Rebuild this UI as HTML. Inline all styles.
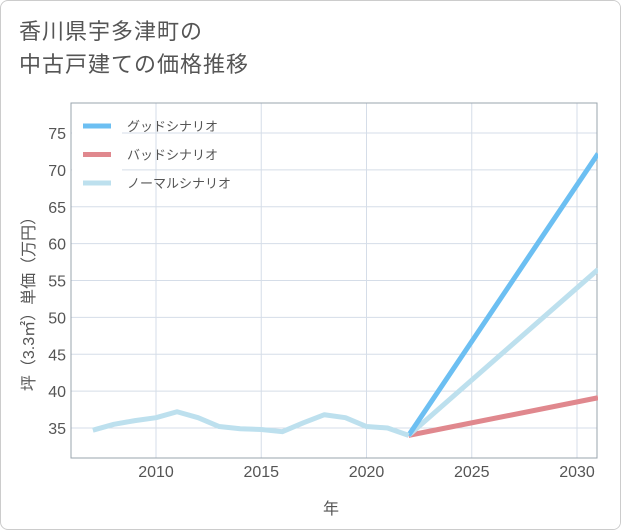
<!DOCTYPE html>
<html><head><meta charset="utf-8"><style>
body{margin:0;background:#fff}
#wrap{position:relative;width:619px;height:528px;border:1px solid #ccc;border-radius:8px;overflow:hidden;font-family:"Liberation Sans","Noto Sans CJK JP",sans-serif}
#title{position:absolute;left:18px;top:14px;font-size:22px;line-height:33px;color:#555;letter-spacing:1px}
</style></head><body>
<div id="wrap">
<div id="title">香川県宇多津町の<br>中古戸建ての価格推移</div>
<svg id="chart" width="621" height="530" style="position:absolute;left:-1px;top:-1px"></svg>
</div>
<script>
const years=[2007,2008,2009,2010,2011,2012,2013,2014,2015,2016,2017,2018,2019,2020,2021,2022];
const history=[34.7,35.5,36.0,36.4,37.2,36.4,35.2,34.9,34.8,34.5,35.7,36.8,36.4,35.2,35.0,34.0];
const projYears=[2022,2031];
const good=[34.0,72.2];
const bad=[34.0,39.1];
const normal=[34.0,56.5];
const xTicks=[2010,2015,2020,2025,2030];
const yTicks=[35,40,45,50,55,60,65,70,75];
const L=71,R=597,T=103,B=458;
const x=v=>156+(v-2010)*21.05;
const y=v=>428-(v-35)*7.375;
const svg=document.getElementById('chart');
const NS='http://www.w3.org/2000/svg';
function el(t,a){const e=document.createElementNS(NS,t);for(const k in a)e.setAttribute(k,a[k]);svg.appendChild(e);return e;}
let g;
for(const t of xTicks){g=el('line',{x1:x(t),x2:x(t),y1:T,y2:B,stroke:'#d5dde8','stroke-width':1});


g=el('text',{x:x(t),y:477,'text-anchor':'middle','font-size':16,fill:'#555'});g.textContent=t;

}
for(const t of yTicks){g=el('line',{x1:L,x2:R,y1:y(t),y2:y(t),stroke:'#d5dde8','stroke-width':1});


g=el('text',{x:66,y:y(t)+6,'text-anchor':'end','font-size':16,fill:'#555'});g.textContent=t;

}
g=el('rect',{x:L,y:T,width:R-L,height:B-T,fill:'none',stroke:'#9aa4ae','stroke-width':1});


function line(xs,ys,c,name){const p=xs.map((v,i)=>x(v)+','+y(ys[i])).join(' ');
const e=el('polyline',{points:p,fill:'none',stroke:c,'stroke-width':5,'stroke-linejoin':'round'});

}
svg.appendChild(Object.assign(document.createElementNS(NS,'clipPath'),{id:'c'}));
line(projYears,bad,'#e0888e','bad-scenario-line');
line(projYears,normal,'#bde0ee','normal-scenario-line');
line(projYears,good,'#6cbff2','good-scenario-line');
line(years,history,'#bde0ee','historical-line');
g=el('rect',{x:598,y:0,width:30,height:530,fill:'#fff'});


g=el('rect',{x:72,y:104,width:50,height:95,fill:'#fff'});


const leg=[['グッドシナリオ','#6cbff2'],['バッドシナリオ','#e0888e'],['ノーマルシナリオ','#bde0ee']];
leg.forEach((d,i)=>{const yy=126+i*28.5;
g=el('line',{x1:83,x2:111,y1:yy,y2:yy,stroke:d[1],'stroke-width':5});


g=el('text',{x:127,y:yy+5,'font-size':13,fill:'#555'});g.textContent=d[0];

});
g=el('text',{x:331,y:514,'text-anchor':'middle','font-size':16,fill:'#555'});g.textContent='年';


g=el('text',{x:0,y:0,'text-anchor':'middle','font-size':16,fill:'#555',transform:'translate(34,300) rotate(-90)'});g.textContent='坪（3.3㎡）単価（万円）';


</script>
</body></html>
